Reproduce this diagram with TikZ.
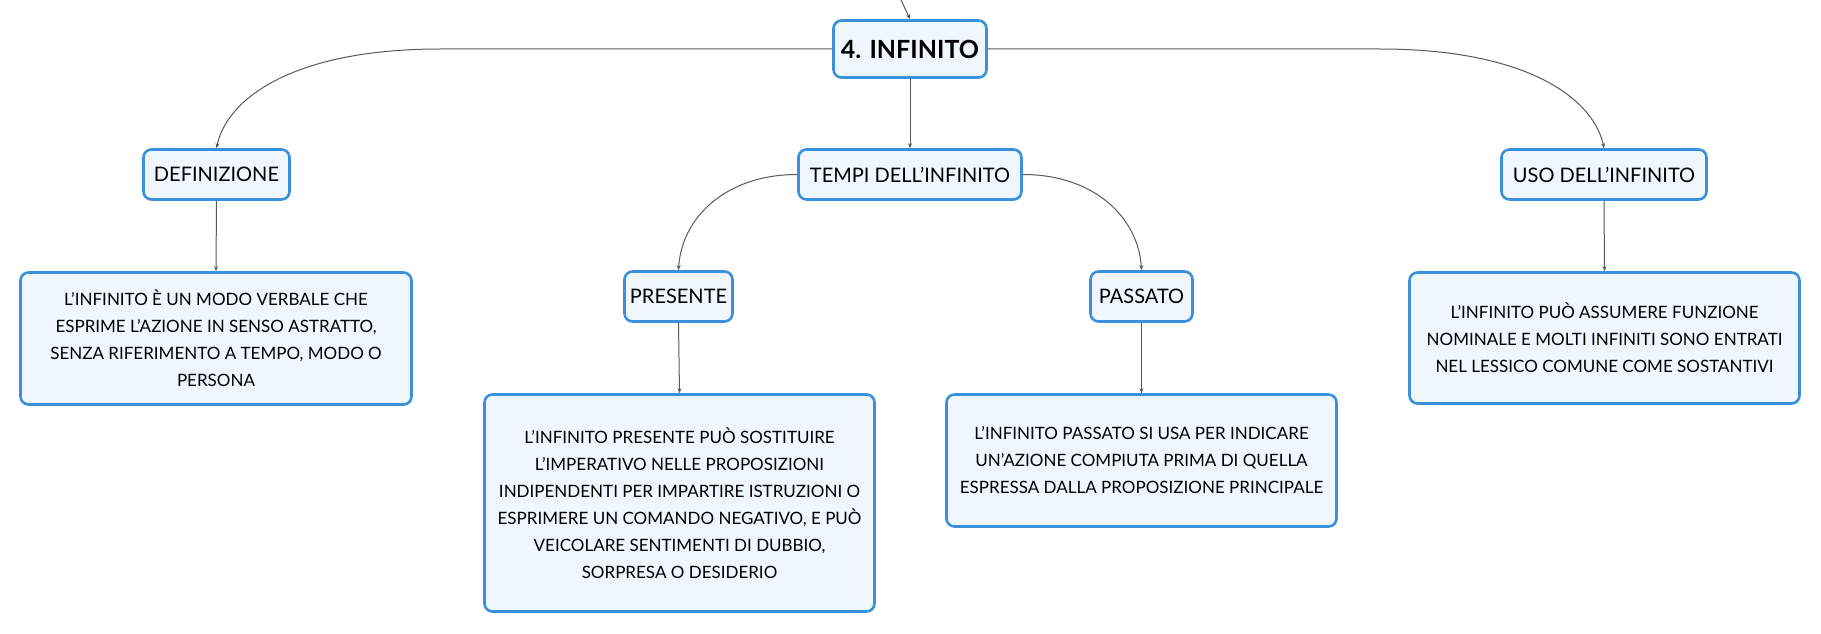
\documentclass[tikz,border=0pt]{standalone}
\usepackage{fontspec}
\setmainfont{Lato}
\usetikzlibrary{arrows.meta}
\definecolor{bordo}{HTML}{3A90DC}
\definecolor{riemp}{HTML}{EFF6FD}
\definecolor{linea}{HTML}{5A5A5A}
\begin{document}
\begin{tikzpicture}[x=1pt,y=-1pt,
  box/.style={draw=bordo, line width=2.6pt, fill=riemp, rounded corners=8pt,
    inner sep=0pt, align=center},
  titlebox/.style={box, font=\fontsize{20}{24}\selectfont},
  rootbox/.style={box, font=\bfseries\fontsize{25}{30}\selectfont},
  textbox/.style={box, font=\fontsize{17}{27}\selectfont},
  conn/.style={draw=linea, line width=1pt, -{Stealth[length=5pt,width=4pt]}}]
\useasboundingbox (0,0) rectangle (1821,634);
\fill[white] (0,0) rectangle (1821,634);
% root
\node[rootbox, minimum width=153pt, minimum height=57pt] (inf) at (910,49) {4. INFINITO};
% level 1
\node[titlebox, minimum width=146pt, minimum height=50pt] (def) at (216.5,174.5) {DEFINIZIONE};
\node[titlebox, minimum width=223pt, minimum height=50pt] (tempi) at (910,174.5) {TEMPI DELL'INFINITO};
\node[titlebox, minimum width=205pt, minimum height=50pt] (uso) at (1604,174.5) {USO DELL'INFINITO};
% level 2
\node[titlebox, minimum width=108pt, minimum height=50pt] (pres) at (678.5,296.5) {PRESENTE};
\node[titlebox, minimum width=102pt, minimum height=50pt] (pass) at (1141.5,296.5) {PASSATO};
% texts
\node[textbox, minimum width=391pt, minimum height=132pt] (deft) at (216,338.5)
  {L'INFINITO È UN MODO VERBALE CHE\\ESPRIME L'AZIONE IN SENSO ASTRATTO,\\SENZA RIFERIMENTO A TEMPO, MODO O\\PERSONA};
\node[textbox, minimum width=390pt, minimum height=217pt] (prest) at (679.5,503)
  {L'INFINITO PRESENTE PUÒ SOSTITUIRE\\L'IMPERATIVO NELLE PROPOSIZIONI\\INDIPENDENTI PER IMPARTIRE ISTRUZIONI O\\ESPRIMERE UN COMANDO NEGATIVO, E PUÒ\\VEICOLARE SENTIMENTI DI DUBBIO,\\SORPRESA O DESIDERIO};
\node[textbox, minimum width=390pt, minimum height=132pt] (passt) at (1141.5,460.5)
  {L'INFINITO PASSATO SI USA PER INDICARE\\UN'AZIONE COMPIUTA PRIMA DI QUELLA\\ESPRESSA DALLA PROPOSIZIONE PRINCIPALE};
\node[textbox, minimum width=390pt, minimum height=131pt] (usot) at (1604.5,338)
  {L'INFINITO PUÒ ASSUMERE FUNZIONE\\NOMINALE E MOLTI INFINITI SONO ENTRATI\\NEL LESSICO COMUNE COME SOSTANTIVI};
% connectors
\coordinate (topin) at (901,0);
\draw[conn] (topin) .. controls (905,8) .. (inf.north);
\draw[conn] (inf.west) -- ++(-392,0) .. controls +(-150,0) and +(10,-48) .. (def.north);
\draw[conn] (inf.east) -- ++(392,0) .. controls +(150,0) and +(-10,-48) .. (uso.north);
\draw[conn] (inf.south) -- (tempi.north);
\draw[conn] (tempi.west) .. controls +(-72,0) and +(3,-52) .. (pres.north);
\draw[conn] (tempi.east) .. controls +(72,0) and +(-3,-52) .. (pass.north);
\draw[conn] (def.south) -- (deft.north);
\draw[conn] (uso.south) -- (usot.north);
\draw[conn] (pres.south) -- (prest.north);
\draw[conn] (pass.south) -- (passt.north);
\end{tikzpicture}
\end{document}
